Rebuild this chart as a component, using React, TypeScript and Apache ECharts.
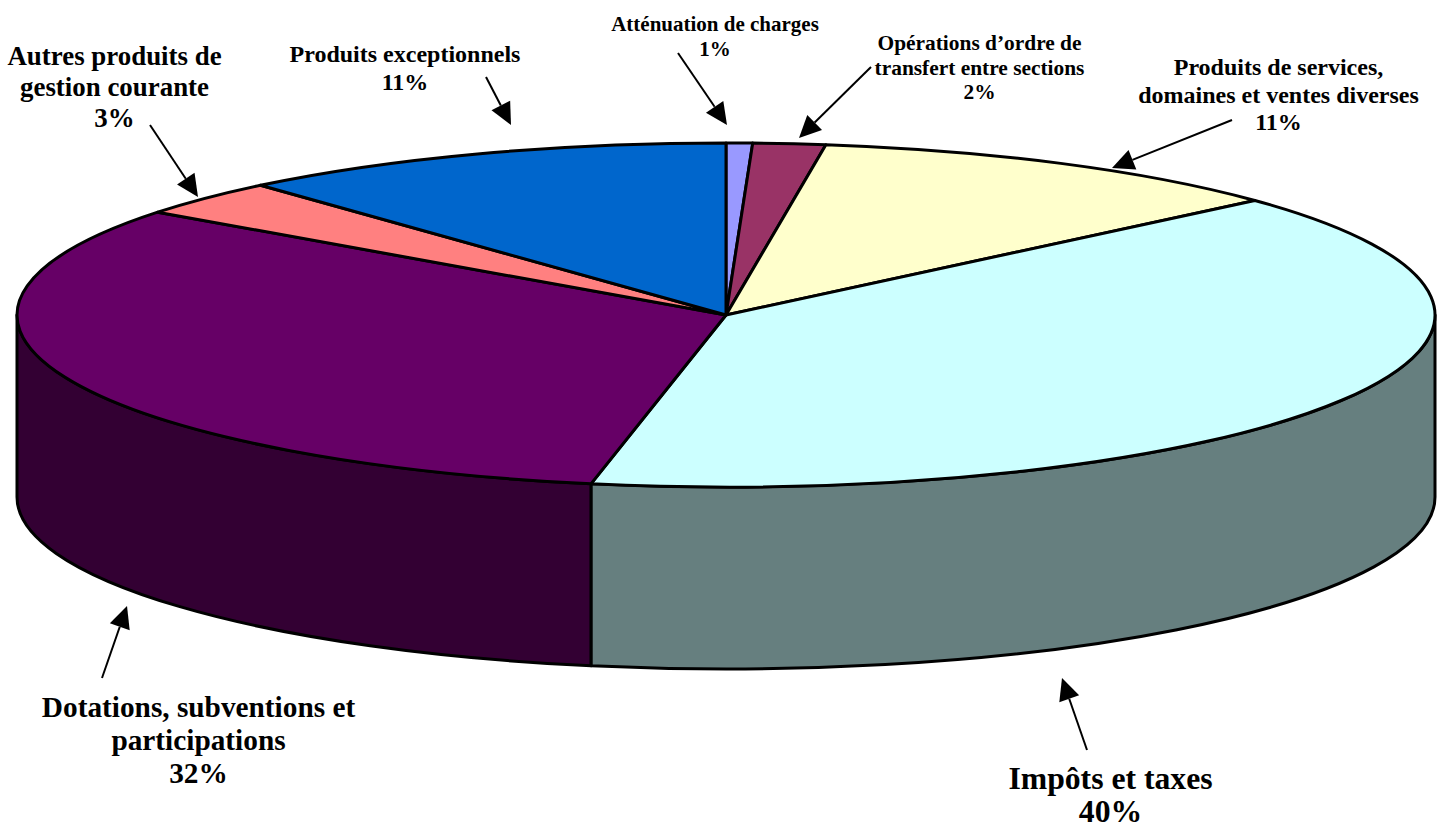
import React, { useEffect, useRef } from "react";
import * as echarts from "echarts";

// Clockwise from twelve o'clock
const sliceNames = [
  "Atténuation de charges",
  "Opérations d’ordre de transfert entre sections",
  "Produits de services, domaines et ventes diverses",
  "Impôts et taxes",
  "Dotations, subventions et participations",
  "Autres produits de gestion courante",
  "Produits exceptionnels",
];
const sliceValues = [0.6, 1.65, 11.15, 39.65, 32.15, 3.4, 11.4];
const topColors = ["#9999FF", "#993366", "#FFFFCC", "#CCFFFF", "#660066", "#FF8080", "#0066CC"];
const sideColors = ["#4C4C7F", "#4C1933", "#7F7F66", "#667F7F", "#330033", "#7F4040", "#003366"];

const labelTexts = [
  "Atténuation de charges\n1%",
  "Opérations d’ordre de\ntransfert entre sections\n2%",
  "Produits de services,\ndomaines et ventes diverses\n11%",
  "Impôts et taxes\n40%",
  "Dotations, subventions et\nparticipations\n32%",
  "Autres produits de\ngestion courante\n3%",
  "Produits exceptionnels\n11%",
];
// centre x, top y, font size, line height
const labelLayout = [
  [715, 11.5, 21, 25],
  [979.5, 31, 21.4, 24.5],
  [1278.5, 53.5, 24, 27.5],
  [1110.5, 762, 31.7, 33],
  [198.5, 690.5, 29.3, 33],
  [114.5, 40.5, 26.9, 31],
  [405, 40, 24, 28],
];
// tail x, tail y, tip x, tip y
const arrowLayout = [
  [678, 53, 727, 125],
  [871, 67, 799, 138],
  [1232, 120, 1112, 168],
  [1087, 750, 1062, 678],
  [102, 678, 127, 606],
  [150, 125, 198, 197],
  [486, 77, 511, 125],
];

const CX = 726;
const CY = 315;
const RX = 709;
const RY = 172;
const DEPTH = 182;
const LINE = 3;

const pt = (deg: number, dy = 0) => {
  const r = (deg * Math.PI) / 180;
  return [CX + RX * Math.sin(r), CY - RY * Math.cos(r) + dy];
};

function renderSlice(params: any, api: any) {
  const i = params.dataIndex;
  const total = sliceValues.reduce((a, b) => a + b, 0);
  const before = sliceValues.slice(0, i).reduce((a, b) => a + b, 0);
  const t0 = (before / total) * 360;
  const t1 = t0 + (api.value(0) / total) * 360;
  const children: any[] = [];
  const a = Math.max(t0, 90);
  const b = Math.min(t1, 270);
  const style = { lineWidth: LINE, stroke: "#000", lineJoin: "round" };
  if (b > a) {
    const p = pt(a);
    const q = pt(b);
    const q2 = pt(b, DEPTH);
    const p2 = pt(a, DEPTH);
    children.push({
      type: "path",
      shape: {
        pathData: `M${p[0]} ${p[1]} A${RX} ${RY} 0 0 1 ${q[0]} ${q[1]} L${q2[0]} ${q2[1]} A${RX} ${RY} 0 0 0 ${p2[0]} ${p2[1]} Z`,
      },
      style: { ...style, fill: sideColors[i] },
    });
  }
  const s = pt(t0);
  const e = pt(t1);
  children.push({
    type: "path",
    shape: {
      pathData: `M${CX} ${CY} L${s[0]} ${s[1]} A${RX} ${RY} 0 ${t1 - t0 > 180 ? 1 : 0} 1 ${e[0]} ${e[1]} Z`,
    },
    style: { ...style, fill: topColors[i] },
  });
  return { type: "group", children };
}

function arrowElements() {
  const out: any[] = [];
  arrowLayout.forEach(([x0, y0, x1, y1]) => {
    const len = Math.hypot(x1 - x0, y1 - y0);
    const ux = (x1 - x0) / len;
    const uy = (y1 - y0) / len;
    const headL = 22;
    const headW = 10.5;
    const bx = x1 - ux * headL;
    const by = y1 - uy * headL;
    out.push({
      type: "line",
      shape: { x1: x0, y1: y0, x2: bx, y2: by },
      style: { stroke: "#000", lineWidth: 2 },
    });
    out.push({
      type: "polygon",
      shape: {
        points: [
          [x1, y1],
          [bx - uy * headW, by + ux * headW],
          [bx + uy * headW, by - ux * headW],
        ],
      },
      style: { fill: "#000" },
    });
  });
  return out;
}

function labelElements() {
  return labelTexts.map((t, i) => {
    const [x, y, size, lh] = labelLayout[i];
    return {
      type: "text",
      x,
      y,
      style: {
        text: t,
        fill: "#000",
        align: "center",
        verticalAlign: "top",
        font: `bold ${size}px "Liberation Serif", "Times New Roman", serif`,
        lineHeight: lh,
      },
    };
  });
}

export default function App() {
  const ref = useRef<HTMLDivElement>(null);
  useEffect(() => {
    document.body.style.margin = "0";
    const chart = echarts.init(ref.current!, null, { renderer: "svg" });
    chart.setOption({
      animation: false,
      backgroundColor: "#fff",
      graphic: { elements: [...arrowElements(), ...labelElements()] },
      series: [
        {
          type: "custom",
          coordinateSystem: "none",
          silent: true,
          clip: false,
          data: sliceValues.map((v, i) => ({ name: sliceNames[i], value: [v] })),
          renderItem: renderSlice,
        },
      ],
    });
    return () => chart.dispose();
  }, []);
  return <div ref={ref} style={{ width: 1442, height: 829, position: "absolute", left: 0, top: 0 }} />;
}
